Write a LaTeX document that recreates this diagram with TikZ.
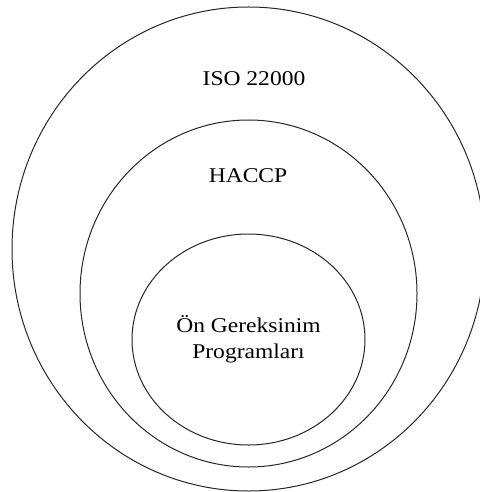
\documentclass[tikz,border=0pt]{standalone}
\usepackage{fontspec}
\setmainfont{Liberation Serif}
\begin{document}
\begin{tikzpicture}[x=1pt,y=-1pt,
  ring/.style={draw=black!85,line width=1pt},
  lbl/.style={font=\fontsize{21}{26}\selectfont,align=center,inner sep=0pt}]
\useasboundingbox (0,0) rectangle (479,492);
\draw[ring] (248.5,249) ellipse [x radius=236.5, y radius=242];
\draw[ring] (248.5,293.5) ellipse [x radius=168.5, y radius=173.5];
\draw[ring] (248.5,339.5) ellipse [x radius=116.5, y radius=105.5];
\node[lbl] (iso) at (254,79) {\scalebox{1.12}[1]{ISO 22000}};
\node[lbl] (haccp) at (248,176) {\scalebox{1.12}[1]{HACCP}};
\node[lbl] (prp) at (248.5,339) {\scalebox{1.12}[1]{Ön Gereksinim}\\\scalebox{1.12}[1]{Programları}};
\end{tikzpicture}
\end{document}
